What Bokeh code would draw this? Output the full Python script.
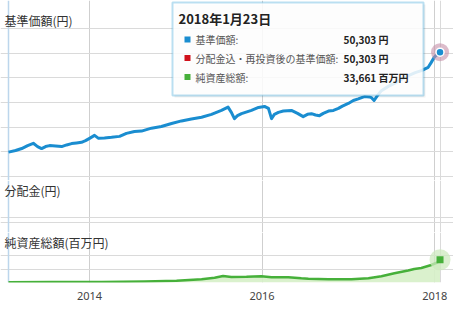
import pandas as pd
from bokeh.plotting import figure
from bokeh.layouts import column
from bokeh.models import (Range1d, FixedTicker, DatetimeTickFormatter, Label,
                          BoxAnnotation, Grid)
from bokeh.embed import file_html
from bokeh.resources import INLINE

# ---------------- data ----------------
nav_dates = ["2013-01-23", "2013-02-22", "2013-03-20", "2013-04-14", "2013-05-08", "2013-05-26",
             "2013-06-12", "2013-06-29", "2013-07-16", "2013-08-10", "2013-09-05", "2013-09-26",
             "2013-10-17", "2013-11-07", "2013-11-28", "2013-12-15", "2014-01-01", "2014-01-22",
             "2014-02-08", "2014-03-05", "2014-04-04", "2014-05-08", "2014-06-06", "2014-07-10",
             "2014-08-09", "2014-09-20", "2014-11-01", "2014-12-14", "2015-01-25", "2015-03-08",
             "2015-04-20", "2015-06-01", "2015-07-13", "2015-08-10", "2015-08-24", "2015-09-06",
             "2015-09-19", "2015-10-06", "2015-11-17", "2015-12-17", "2016-01-11", "2016-01-28",
             "2016-02-10", "2016-02-22", "2016-03-10", "2016-03-31", "2016-05-04", "2016-05-30",
             "2016-06-23", "2016-07-11", "2016-07-28", "2016-08-14", "2016-08-31", "2016-09-16",
             "2016-10-08", "2016-10-29", "2016-11-19", "2016-12-06", "2016-12-31", "2017-01-21",
             "2017-02-11", "2017-03-09", "2017-03-30", "2017-04-07", "2017-04-19", "2017-05-03",
             "2017-05-20", "2017-06-18", "2017-07-14", "2017-08-12", "2017-09-11", "2017-10-10",
             "2017-11-05", "2017-12-04", "2017-12-17", "2017-12-30", "2018-01-11", "2018-01-23"]
nav_values = [19900, 20400, 21000, 21900, 22600, 21600,
              21000, 21600, 21900, 21800, 21600, 22100,
              22500, 22700, 22900, 23400, 24100, 25000,
              24100, 24200, 24400, 24700, 25600, 26200,
              26300, 27200, 27700, 28600, 29400, 30000,
              30500, 31400, 32600, 33600, 32000, 30100,
              31000, 31600, 32600, 33500, 33800, 33200,
              30100, 31400, 32000, 32400, 32600, 31700,
              30700, 31400, 31600, 31200, 31000, 31700,
              32400, 32600, 33200, 33900, 34700, 35600,
              36100, 36800, 36700, 36500, 35600, 37100,
              38600, 39900, 40800, 42000, 43200, 44100,
              44700, 45700, 47200, 48800, 49600, 50303]

aum_dates = ["2013-01-23", "2013-07-24", "2014-02-21", "2014-08-22", "2015-01-04", "2015-04-20",
             "2015-06-14", "2015-07-20", "2015-08-24", "2015-10-27", "2015-12-29", "2016-02-10",
             "2016-04-21", "2016-06-15", "2016-07-15", "2016-10-08", "2017-01-13", "2017-03-26",
             "2017-05-20", "2017-07-14", "2017-09-10", "2017-10-06", "2017-11-05", "2017-12-17",
             "2018-01-11", "2018-01-23"]
aum_values = [450, 600, 740, 1480, 2500, 4700,
              7000, 9600, 8100, 8400, 9200, 7700,
              7800, 6200, 5600, 4900, 4700, 6400,
              9300, 13800, 17800, 20000, 21500, 25900,
              29600, 33661]

year_ticks = ["2014-01-01", "2016-01-01", "2018-01-01"]

title_nav = "基準価額(円)"
title_dist = "分配金(円)"
title_aum = "純資産総額(百万円)"
tip_date = "2018年1月23日"
tip_rows = ["基準価額:", "分配金込・再投資後の基準価額:", "純資産総額:"]
tip_vals = ["50,303 円", "50,303 円", "33,661 百万円"]

# ---------------- styling ----------------
JP = "Noto Sans CJK JP"
BLUE = "#1a8dd0"
RED = "#d0111b"
GREEN = "#46b03a"
GRID = "#dadada"
VGRID = "#cfcfcf"
EDGE = "#bcd6ec"
W = 453

nav_x = pd.to_datetime(nav_dates)
aum_x = pd.to_datetime(aum_dates)

# drawn panel spans canvas x 8..440; frame spans whole canvas width 0..453
x_start = pd.Timestamp("2013-01-23")
x_edge = pd.Timestamp("2018-01-25")
per_px = (x_edge - x_start) / 432
x_lo = x_start - per_px * 8
x_hi = x_edge + per_px * 13
ms = lambda t: pd.Timestamp(t).value / 1e6
xticks = FixedTicker(ticks=[ms(t) for t in year_ticks])


def padded_range(lo, hi, panel_px, pad_top, pad_bottom):
    """value range for a frame that has extra pixels above/below the drawn panel"""
    step = (hi - lo) / panel_px
    return Range1d(lo - pad_bottom * step, hi + pad_top * step)


def base_fig(height, lo, hi, panel_px, pad_top, pad_bottom, border_bottom=0, xaxis=None):
    p = figure(width=W, height=height, output_backend="svg", toolbar_location=None,
               x_axis_type="datetime", x_axis_location=xaxis, y_axis_location=None,
               x_range=Range1d(x_lo, x_hi),
               y_range=padded_range(lo, hi, panel_px, pad_top, pad_bottom),
               min_border_left=0, min_border_right=0, min_border_top=0,
               min_border_bottom=border_bottom, outline_line_color=None,
               background_fill_color="white", border_fill_color="white")
    p.xgrid.ticker = xticks
    p.xgrid.grid_line_color = VGRID
    p.xgrid.bounds = (lo, hi)
    p.ygrid.grid_line_color = GRID
    p.ygrid.bounds = (ms(x_start), ms(x_edge))
    p.add_layout(Grid(dimension=0, ticker=FixedTicker(ticks=[ms(x_start)]), bounds=(lo, hi),
                      grid_line_color=EDGE, grid_line_width=1.5))
    p.add_layout(Grid(dimension=0, ticker=FixedTicker(ticks=[ms(x_edge)]), bounds=(lo, hi),
                      grid_line_color=GRID, grid_line_width=1))
    return p


def label(p, x, y, text, size="12px", bold=False, color="#333333"):
    p.add_layout(Label(x=x, y=y, x_units="screen", y_units="screen", text=text,
                       text_font=JP, text_font_size=size, text_color=color,
                       text_font_style="bold" if bold else "normal",
                       text_baseline="middle", text_align="left"))


def sbox(p, left, right, top, bottom, **kw):
    p.add_layout(BoxAnnotation(left=left, right=right, top=top, bottom=bottom,
                               left_units="screen", right_units="screen",
                               top_units="screen", bottom_units="screen", **kw))


# ---------------- top: NAV (canvas 0..180, panel 28..176) ----------------
p1 = base_fig(180, 12500, 57500, 148, 28, 4)
p1.ygrid.ticker = FixedTicker(ticks=[12500, 20000, 27500, 35000, 42500, 50000, 57500])
p1.line(nav_x, nav_values, line_width=3, line_color=BLUE, line_join="round")
p1.scatter([nav_x[-1]], [nav_values[-1]], size=18, fill_color="#c48fa8", fill_alpha=0.6,
           line_color=None)
p1.scatter([nav_x[-1]], [nav_values[-1]], size=8, fill_color=BLUE, line_color="white",
           line_width=1.5)

label(p1, 4, 160, title_nav)

# tooltip (screen units: x from canvas left, y up from frame bottom=180)
sbox(p1, 174, 425, 176, 83, fill_color="#000000", fill_alpha=0.06, line_color=None)
sbox(p1, 172, 423, 178, 85, fill_color="white", fill_alpha=0.86,
     line_color="#1b96d0", line_width=2)
label(p1, 178, 162, tip_date, size="13px", bold=True, color="#222222")
row_y = [141, 122.5, 103.5]
for yy, col, t, v in zip(row_y, [BLUE, RED, GREEN], tip_rows, tip_vals):
    sbox(p1, 184, 190, yy + 3, yy - 3, fill_color=col, fill_alpha=1, line_color=None)
    label(p1, 195, yy, t, size="10px", color="#555555")
    label(p1, 343, yy, v, size="10px", bold=True, color="#222222")

# ---------------- middle: distributions (canvas 180..232, panel 201..232) ----------------
p2 = base_fig(52, 0, 1, 31, 21, 0)
p2.ygrid.ticker = FixedTicker(ticks=[0.33, 0.5])
label(p2, 4, 42, title_dist)

# ---------------- bottom: net assets (canvas 232..309, panel 255..282) ----------------
p3 = base_fig(77, 0, 40000, 27, 23, 0, border_bottom=27, xaxis="below")
p3.ygrid.ticker = FixedTicker(ticks=[0, 20000, 40000])
p3.varea(aum_x, 0, aum_values, fill_color="#d6efc8", fill_alpha=0.9)
p3.line(aum_x, aum_values, line_width=2.5, line_color=GREEN, line_join="round")
p3.scatter([aum_x[-1]], [aum_values[-1]], size=21, fill_color="#cdeabf", fill_alpha=0.75,
           line_color=None)
p3.scatter([aum_x[-1]], [aum_values[-1]], marker="square", size=7, fill_color=GREEN,
           line_color=None)
label(p3, 4, 40, title_aum)

ax = p3.xaxis[0]
ax.ticker = xticks
ax.formatter = DatetimeTickFormatter(years="%Y", months="%Y", days="%Y", hours="%Y")
ax.axis_line_color = None
ax.major_tick_line_color = None
ax.minor_tick_line_color = None
ax.major_tick_out = 0
ax.major_label_standoff = 9
ax.major_label_text_font = "Noto Sans"
ax.major_label_text_font_size = "11px"
ax.major_label_text_color = "#444444"

layout = column(p1, p2, p3, spacing=0)
open("out.html", "w").write(file_html(layout, INLINE))
